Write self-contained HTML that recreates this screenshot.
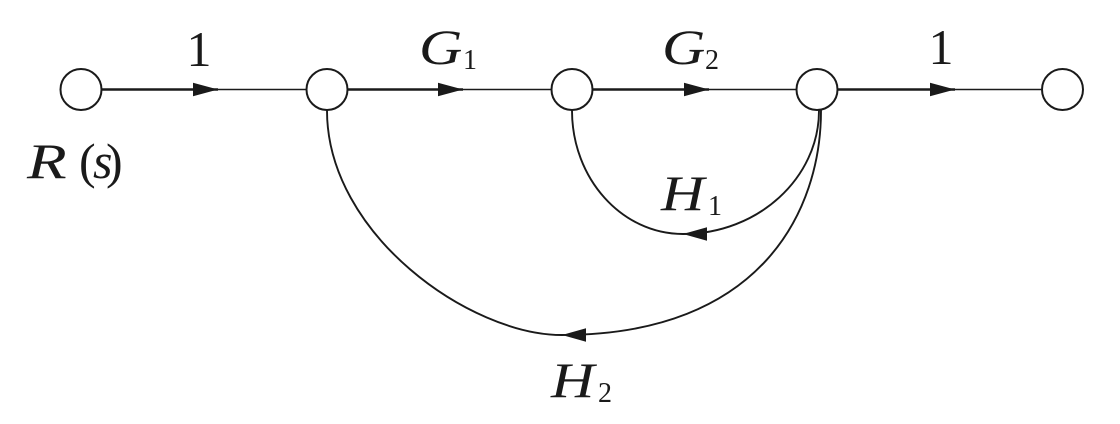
<!DOCTYPE html>
<html>
<head>
<meta charset="utf-8">
<style>
  html, body { margin:0; padding:0; background:#ffffff; }
  body { position:relative; width:1120px; height:424px; overflow:hidden; }
  svg { display:block; position:absolute; left:0; top:0; }
  .t { position:absolute; font-family:"Liberation Serif", "DejaVu Serif", "Times New Roman", serif; color:#1a1a1a; line-height:1; white-space:nowrap; }
  .b { font-size:50px; }
  .s { font-size:28px; }
  .i { font-style:italic; }
  .w { transform:scaleX(1.2); transform-origin:0 0; }
</style>
</head>
<body>
<svg width="1120" height="424" viewBox="0 0 1120 424" xmlns="http://www.w3.org/2000/svg">
  <rect width="1120" height="424" fill="#ffffff"/>

  <g stroke="#1a1a1a" fill="none">
    <line x1="102" y1="89.5" x2="218" y2="89.5" stroke-width="2.4"/>
    <line x1="218" y1="89.5" x2="306" y2="89.5" stroke-width="1.5"/>
    <line x1="348" y1="89.5" x2="463" y2="89.5" stroke-width="2.4"/>
    <line x1="463" y1="89.5" x2="551" y2="89.5" stroke-width="1.5"/>
    <line x1="593" y1="89.5" x2="709" y2="89.5" stroke-width="2.4"/>
    <line x1="709" y1="89.5" x2="796" y2="89.5" stroke-width="1.5"/>
    <line x1="838" y1="89.5" x2="955" y2="89.5" stroke-width="2.4"/>
    <line x1="955" y1="89.5" x2="1041" y2="89.5" stroke-width="1.5"/>
  </g>
  <g fill="#1a1a1a">
    <polygon points="193,82.8 218,89.5 193,96.2"/>
    <polygon points="438,82.8 463,89.5 438,96.2"/>
    <polygon points="684,82.8 709,89.5 684,96.2"/>
    <polygon points="930,82.8 955,89.5 930,96.2"/>
  </g>

  <g stroke="#1a1a1a" fill="none" stroke-width="1.9">
    <path d="M572,110.5 C572,178.5 621.7,234 683,234 C758,234 819,178 819,110.5"/>
    <path d="M327,110.5 C327,234.5 470,335 562,335 C762,335 821,210 821,110.5"/>
  </g>
  <g fill="#1a1a1a">
    <polygon points="683,234 707,227.3 707,240.7"/>
    <polygon points="562,335 586,328.3 586,341.7"/>
  </g>

  <g stroke="#1a1a1a" stroke-width="2" fill="#ffffff">
    <circle cx="81" cy="89.5" r="20.5"/>
    <circle cx="327" cy="89.5" r="20.5"/>
    <circle cx="572" cy="89.5" r="20.5"/>
    <circle cx="817" cy="89.5" r="20.5"/>
    <circle cx="1062.5" cy="89.5" r="20.5"/>
  </g>
</svg>

<div class="t b" style="left:174px;top:24px;width:50px;text-align:center;">1</div>
<div class="t b" style="left:916px;top:21.5px;width:50px;text-align:center;">1</div>

<div class="t b i w" style="left:419px;top:21.5px;">G</div>
<div class="t s" style="left:463px;top:46.5px;">1</div>

<div class="t b i w" style="left:662px;top:21.5px;">G</div>
<div class="t s" style="left:705px;top:46.5px;">2</div>

<div class="t b i w" style="left:661px;top:168px;">H</div>
<div class="t s" style="left:708px;top:193px;">1</div>

<div class="t b i w" style="left:551px;top:354.5px;">H</div>
<div class="t s" style="left:598px;top:379.5px;">2</div>

<div class="t b i" style="left:27px;top:136px;transform:scaleX(1.3);transform-origin:0 0;">R</div>
<div class="t b" style="left:79px;top:136px;">(</div>
<div class="t b i" style="left:93px;top:136px;">s</div>
<div class="t b" style="left:106px;top:136px;">)</div>
</body>
</html>
